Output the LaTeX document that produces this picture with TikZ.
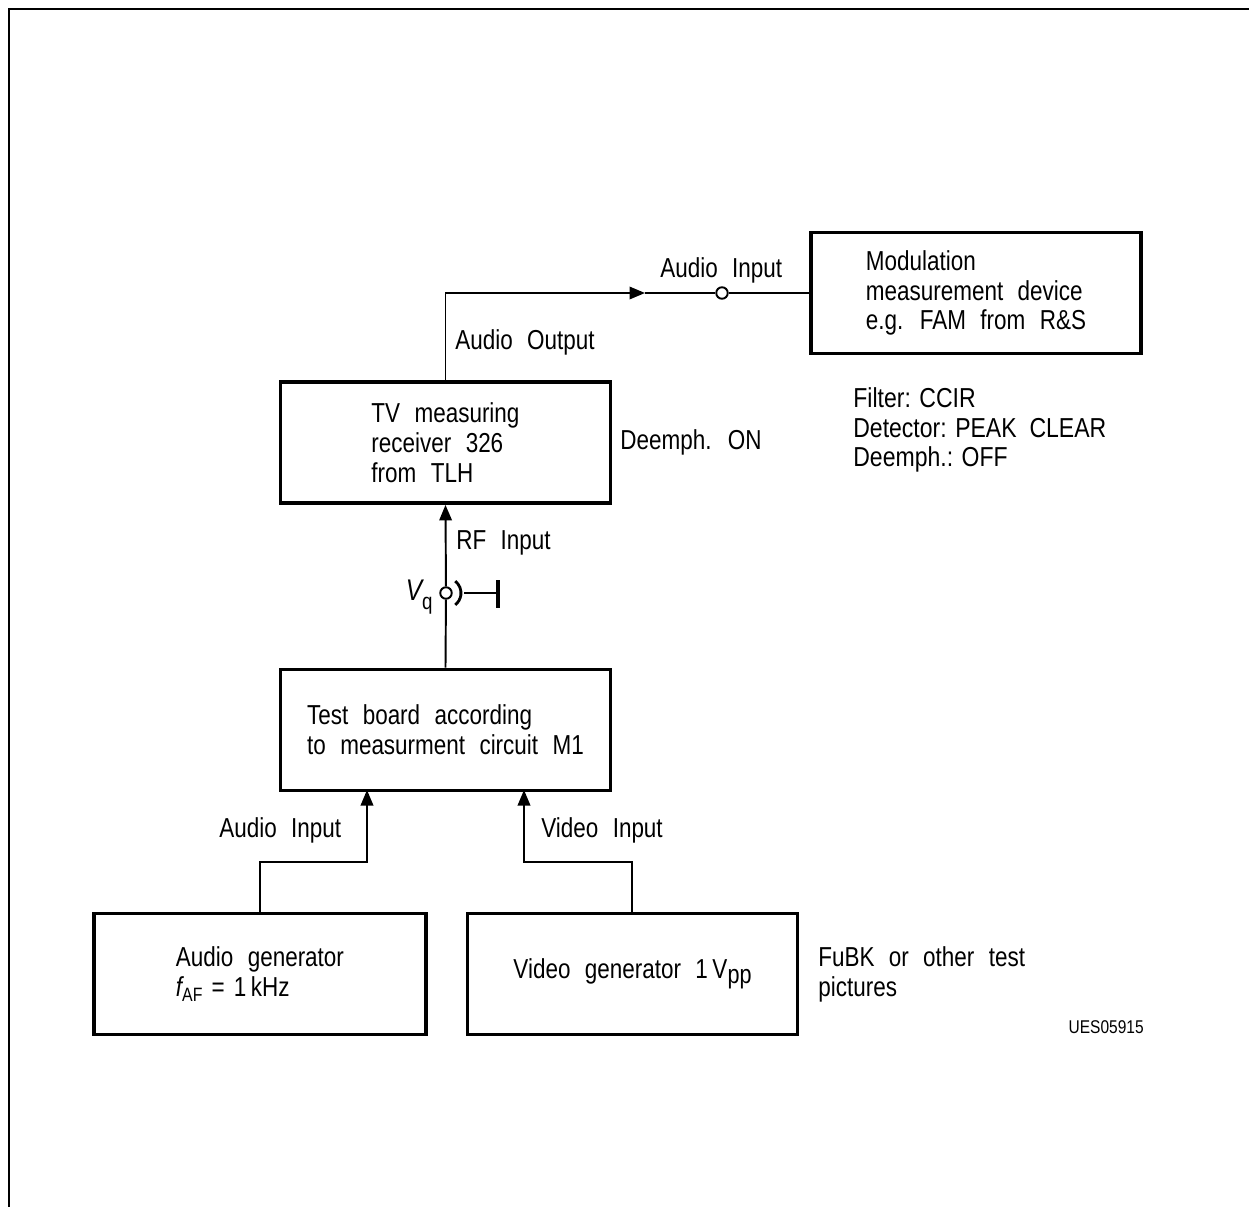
\documentclass[tikz,border=0pt]{standalone}
\usepackage{fontspec}
\setmainfont{Liberation Sans}[FakeStretch=0.82,WordSpace=2.3]
\newfontfamily\notefont{Liberation Sans}[FakeStretch=0.84]
\usetikzlibrary{arrows.meta}

\tikzset{
    blockbox/.style={draw,line width=2.2pt,minimum width=6.6cm,minimum height=2.42cm,align=left,inner sep=0pt},
    jack/.style={draw,circle,line width=1.1pt,minimum size=0.23cm,inner sep=0pt,fill=white},
    lbl/.style={anchor=west,inner sep=0pt},
    sig/.style={line width=1.1pt},
    tip/.style={-{Triangle[length=0.31cm,width=0.25cm]}}
}

\begin{document}
\begin{tikzpicture}[x=0.02cm,y=-0.02cm,font=\fontsize{15.6}{17}\selectfont]
        \useasboundingbox (0,0) rectangle (1249,1207);
        \draw[line width=1.4pt] (9,1207)--(9,9)--(1249,9);

        \node[blockbox] (mod) at (976,293) {Modulation\\measurement device\\e.g. FAM from R\&S};
        \node[blockbox] (tv) at (445.5,442.5) {TV measuring\\receiver 326\\from TLH};
        \node[blockbox] (board) at (445.5,730) {Test board according\\to measurment circuit M1};
        \node[blockbox,minimum width=6.64cm] (agen) at (260,974) {Audio generator\\{\itshape f}\raisebox{-0.35ex}{\fontsize{11}{12}\selectfont AF}\,\,=\,\,1\,kHz};
        \node[blockbox] (vgen) at (632.5,974) {Video generator 1\,V\raisebox{-0.35ex}{\fontsize{15}{17}\selectfont pp}};

        \coordinate (atip) at (645,293);
        \node[jack] (ajack) at (722,293) {};
        \node[jack] (vq) at (446,593) {};
        \coordinate (gnd) at (498,593);
        \coordinate (ain) at (367,790);
        \coordinate (vin) at (524,790);

        \draw[sig,tip] (tv.north) |- (atip);
        \draw[sig] (atip)--(ajack);
        \draw[sig] (ajack)--(mod.west);
        \draw[sig] (board.north)--(vq);
        \draw[sig,tip] (vq)--(tv.south);
        \draw[line width=1.6pt] (vq.center)++(-52:15) arc (-52:52:15);
        \draw[sig] (464,593)--(gnd);
        \draw[line width=2.2pt] (498,580)--(498,608);
        \draw[sig,tip] (agen.north -| 260,0) |- (ain |- 0,862) -- (ain);
        \draw[sig,tip] (vgen.north -| 632,0) |- (vin |- 0,862) -- (vin);

        \node[lbl] (ainlbl) at (660,270) {Audio Input};
        \node[lbl] (aoutlbl) at (455,342) {Audio Output};
        \node[lbl] (deon) at (620,442) {Deemph. ON};
        \node[lbl] (rflbl) at (456,543) {RF Input};
        \node[anchor=east,inner sep=0pt] (vqlbl) at (433,597) {{\fontsize{17}{18}\selectfont\itshape V}\raisebox{-0.6ex}{\fontsize{13}{14}\selectfont q}};
        \node[lbl,align=left] (settings) at (853,430) {\notefont Filter: CCIR\\\notefont Detector: PEAK\ \ CLEAR\\\notefont Deemph.: OFF};
        \node[lbl] (audlbl) at (219,830) {Audio Input};
        \node[lbl] (vidlbl) at (541,830) {Video Input};
        \node[lbl,align=left] (fubk) at (818,974) {FuBK or other test\\pictures};
        \node[anchor=east,inner sep=0pt,font=\notefont\fontsize{10.5}{12}\selectfont] (code) at (1144,1027) {UES05915};
    \end{tikzpicture}
\end{document}
